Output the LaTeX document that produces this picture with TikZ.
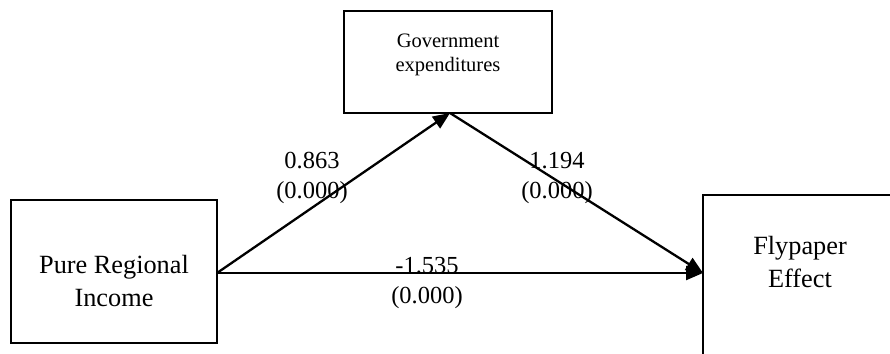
\documentclass[tikz,border=0pt]{standalone}
\usepackage{fontspec}
\setmainfont{Liberation Serif}
\usetikzlibrary{arrows.meta}
\begin{document}
\begin{tikzpicture}[x=1pt,y=-1pt,
  box/.style={draw=black,line width=1.8pt,inner sep=0pt,rectangle},
  lbl/.style={align=center,inner sep=0pt,font=\fontsize{24.5}{30}\selectfont},
  big/.style={align=center,inner sep=0pt,font=\fontsize{26.3}{33}\selectfont},
  arr/.style={line width=2.3pt,-{Triangle[length=17pt,width=14pt]}}]
\useasboundingbox (0,0) rectangle (890,353);
\clip (0,0) rectangle (890,353);
% boxes
\node[box,minimum width=206pt,minimum height=143pt] (pri) at (114,271.5) {};
\node[box,minimum width=208pt,minimum height=102pt] (gov) at (448,62) {};
\node[box,minimum width=200pt,minimum height=170pt] (fly) at (803,280) {};
% texts
\node[big,anchor=center] (tpri) at (114,281) {Pure Regional\\Income};
\node[inner sep=0pt,align=center,font=\fontsize{20.5}{24}\selectfont] (tgov) at (448,55) {Government\\expenditures};
\node[big] (tfly) at (800,262) {Flypaper\\Effect};
% connector endpoints
\coordinate (s) at (217,273);
\coordinate (apex) at (450,113);
\coordinate (e) at (703,273);
\draw[arr] (s) -- (apex);
\draw[arr] (apex) -- (e);
\draw[arr] (s) -- (e);
% labels
\node[lbl] (l1) at (312,178) {0.863\\(0.000)};
\node[lbl] (l2) at (557,178) {1.194\\(0.000)};
\node[lbl] (l3) at (427,283) {-1.535\\(0.000)};
\end{tikzpicture}
\end{document}
